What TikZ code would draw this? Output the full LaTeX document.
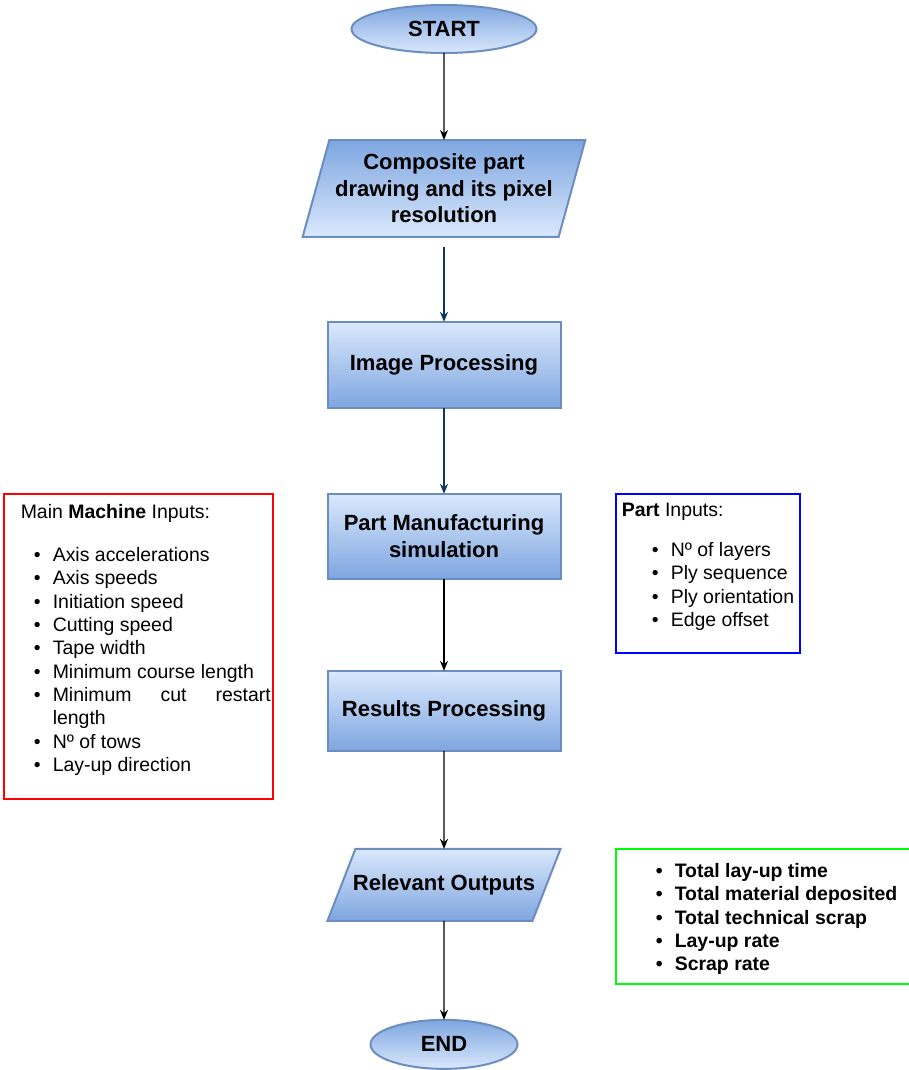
\documentclass[tikz,border=0pt]{standalone}
\usepackage{fontspec}
\setmainfont{Liberation Sans}
\usepackage{enumitem}
\usetikzlibrary{arrows.meta,positioning,shapes.geometric}
\definecolor{boxline}{RGB}{108,142,191}
\definecolor{boxlight}{RGB}{218,232,252}
\definecolor{boxdark}{RGB}{126,166,224}
\definecolor{navycol}{RGB}{16,54,100}
\definecolor{machred}{RGB}{255,0,0}
\definecolor{partblue}{RGB}{0,0,255}
\definecolor{outgreen}{RGB}{0,255,0}
\newcommand{\flowfont}{\bfseries\fontsize{16.5pt}{20pt}\selectfont}
\newcommand{\inputfont}{\fontsize{14.6pt}{17.5pt}\selectfont}

\begin{document}
\begin{tikzpicture}[
  startstop/.style={ellipse, draw=boxline, line width=1.5pt,
    inner sep=0pt, outer sep=0pt, font=\flowfont},
  process/.style={rectangle, draw=boxline, line width=1.5pt,
    top color=boxlight, bottom color=boxdark,
    minimum width=174.75pt, minimum height=64.5pt,
    inner sep=0pt, outer sep=0pt, align=center, font=\flowfont},
  io/.style={trapezium, draw=boxline, line width=1.5pt,
    outer sep=0pt, align=center, font=\flowfont},
  inbox/.style={rectangle, line width=1.5pt, inner sep=0pt, outer sep=0pt},
  listtext/.style={inner sep=0pt, anchor=north west, align=justify,
    font=\inputfont,
    execute at begin node={\parindent=0pt \hyphenpenalty=10000 \tolerance=9999 }},
  arrow/.style={-{Stealth[length=7.5pt, width=6pt]}, line width=1pt, color=black},
  bluearrow/.style={arrow, color=navycol}
]
\useasboundingbox (0,0) rectangle (681.75pt,-802.5pt);

% Flow
\node[startstop, top color=boxdark, bottom color=boxlight,
  minimum width=138.75pt, minimum height=36pt] (start) at (333pt,-21.75pt) {START};
\node[io, below=65.25pt of start, top color=boxdark, bottom color=boxlight,
  trapezium left angle=74.6, trapezium right angle=105.4,
  inner xsep=4.4pt, inner ysep=10.25pt] (comp)
  {Composite part\\ drawing and its pixel\\ resolution};
\node[process, below=63.75pt of comp] (img) {Image Processing};
\node[process, below=64.5pt of img, minimum height=63.75pt] (part)
  {Part Manufacturing\\ simulation};
\node[process, below=69pt of part, minimum height=60pt] (res) {Results Processing};
\node[io, below=73.5pt of res, top color=boxlight, bottom color=boxdark,
  trapezium left angle=68.75, trapezium right angle=111.25,
  text height=12pt, text depth=3.6pt,
  inner xsep=-1.9pt, inner ysep=19.2pt] (outs) {Relevant Outputs};
\node[startstop, below=74.25pt of outs, top color=boxdark, bottom color=boxlight,
  minimum width=110.25pt, minimum height=36.75pt] (finish) {END};

% Arrows
\draw[arrow] (start) -- (comp);
\draw[bluearrow] ([yshift=-7.5pt]comp.south) -- (img);
\draw[bluearrow] (img) -- (part);
\draw[arrow] (part) -- (res);
\draw[arrow] (res) -- (outs);
\draw[arrow] (outs) -- (finish);

% Input and output boxes
\node[inbox, draw=machred, minimum width=201.75pt, minimum height=228.75pt,
  anchor=north east] (machinebox) at ([xshift=-41.25pt]part.north west) {};
\node[listtext, text width=187.5pt] (machine)
  at ([xshift=12.75pt, yshift=-7.5pt]machinebox.north west)
  {Main \textbf{Machine} Inputs:
  \begin{itemize}[label=\textbullet, leftmargin=24pt, labelsep=9pt,
    itemsep=0pt, parsep=0pt, partopsep=0pt, topsep=15pt]
  \item Axis accelerations
  \item Axis speeds
  \item Initiation speed
  \item Cutting speed
  \item Tape width
  \item Minimum course length
  \item Minimum cut restart length
  \item Nº of tows
  \item Lay-up direction
  \end{itemize}};

\node[inbox, draw=partblue, minimum width=138pt, minimum height=119.25pt,
  anchor=north west] (partbox) at ([xshift=41.25pt]part.north east) {};
\node[listtext, text width=131pt] (partin)
  at ([xshift=4.5pt, yshift=-6.75pt]partbox.north west)
  {\textbf{Part} Inputs:
  \begin{itemize}[label=\textbullet, leftmargin=36.75pt, labelsep=9pt,
    itemsep=0pt, parsep=0pt, partopsep=0pt, topsep=12.5pt]
  \item Nº of layers
  \item Ply sequence
  \item Ply orientation
  \item Edge offset
  \end{itemize}};

\node[inbox, draw=outgreen, minimum width=225pt, minimum height=101.25pt,
  anchor=north west] (outbox) at (outs.north -| partbox.west) {};
\node[listtext, text width=210pt, font=\inputfont\bfseries] (results)
  at ([xshift=4.5pt, yshift=-3.75pt]outbox.north west)
  {\begin{itemize}[label=\textbullet, leftmargin=39.75pt, labelsep=9pt,
    itemsep=0pt, parsep=0pt, partopsep=0pt, topsep=0pt]
  \item Total lay-up time
  \item Total material deposited
  \item Total technical scrap
  \item Lay-up rate
  \item Scrap rate
  \end{itemize}};
\end{tikzpicture}
\end{document}
